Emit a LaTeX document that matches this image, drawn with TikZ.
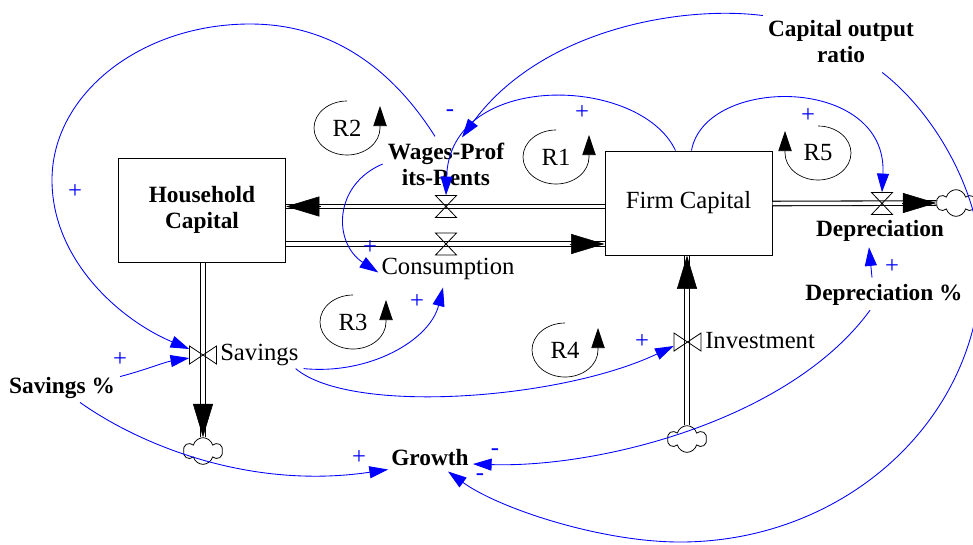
\documentclass[tikz,border=0pt]{standalone}
\usepackage{fontspec}
\setmainfont{Liberation Serif}
\usepackage{xcolor}
\usepackage{tikz}
\usetikzlibrary{arrows.meta,calc,shapes.symbols}
\definecolor{linkc}{rgb}{0,0,1}

\begin{document}
\begin{tikzpicture}[x=0.75pt,y=-0.75pt,
  reg/.style={font=\fontsize{18.5}{19.5}\selectfont,inner sep=0pt},
  bld/.style={font=\fontsize{17.5}{19.5}\selectfont\bfseries,inner sep=0pt},
  stock/.style={draw,line width=0.75pt,minimum width=125.25pt,minimum height=78pt},
  pipe/.style={line width=0.8pt,double=white,double distance=2.6pt},
  flowhead/.style={-{Triangle[length=25pt,width=15pt]},line width=0.4pt},
  hvbox/.style={inner sep=0pt,minimum width=15.75pt,minimum height=16.5pt},
  vvbox/.style={inner sep=0pt,minimum width=20.25pt,minimum height=13.5pt},
  hvalve/.pic={\draw[line width=0.6pt] (-10.5,-11) -- (10.5,-11) -- (-10.5,11) -- (10.5,11) -- cycle;},
  vvalve/.pic={\draw[line width=0.6pt] (-13.5,-9) -- (-13.5,9) -- (13.5,-9) -- (13.5,9) -- cycle;},
  cloudy/.style={cloud,draw,cloud puffs=6,aspect=1.5,minimum width=29pt,minimum height=20pt,inner sep=0pt,line width=0.6pt},
  link/.style={draw=linkc,line width=0.65pt,-{Triangle[length=14pt,width=9pt]}},
  sign/.style={text=linkc,font=\fontsize{18.5}{19.5}\selectfont,inner sep=0pt},
  loopline/.style={line width=0.5pt,-{Triangle[length=15pt,width=10pt]}}]
\useasboundingbox (0,0) rectangle (973,544);

% stocks and flow valves
\node[stock,bld,align=center] (hh) at (202,210) {Household\\Capital};
\node[stock,reg] (fc) at (688.5,203) {Firm Capital};
\node[hvbox] (wprv) at (446,206.5) {};
\node[hvbox] (consv) at (446,244) {};
\node[hvbox] (depv) at (882,203.5) {};
\node[vvbox] (savv) at (203,355) {};
\node[vvbox] (invv) at (687.5,342) {};
\node[cloudy] (savc) at (203,451) {};
\node[cloudy] (invc) at (687,439) {};
\node[cloudy] (depc) at (956,203) {};

% pipes
\draw[pipe] (fc.west |- wprv) -- (hh.east |- wprv);
\draw[flowhead] ($(hh.east |- wprv)+(35,0)$) -- (hh.east |- wprv);
\draw[pipe] (hh.east |- consv) -- (fc.west |- consv);
\draw[flowhead] ($(fc.west |- consv)+(-35,0)$) -- (fc.west |- consv);
\draw[pipe] (hh.south -| savv) -- (savc.north);
\draw[flowhead] ($(savc.north)+(0,-30)$) -- (savc.north);
\draw[pipe] (invc.north) -- (fc.south -| invc);
\draw[flowhead] ($(fc.south -| invc)+(0,30)$) -- (fc.south -| invc);
\draw[pipe] (fc.east |- depv) -- (depc.west);
\draw[flowhead] ($(depc.west)+(-34,0)$) -- (depc.west);
\pic at (wprv) {hvalve};
\pic at (consv) {hvalve};
\pic at (depv) {hvalve};
\pic at (savv) {vvalve};
\pic at (invv) {vvalve};

% labels
\node[bld,align=center] (wpr) at (446,164) {Wages-Prof\\its-Rents};
\node[reg,anchor=base] (cons) at (448,274) {Consumption};
\node[reg,anchor=base west] (savl) at (220,360) {Savings};
\node[reg,anchor=base west] (invl) at (705,348) {Investment};
\node[bld,anchor=base] (dep) at (880,236) {Depreciation};
\node[bld,anchor=base] (dp) at (884,300) {Depreciation \%};
\node[bld,align=center] (cor) at (841,42) {Capital output\\ratio};
\node[bld,anchor=base] (sp) at (62,393) {Savings \%};
\node[bld,anchor=base] (gr) at (430,465) {Growth};

% loops
\node[reg] (r1) at (556,157) {R1};
\node[reg] (r2) at (347,128) {R2};
\node[reg] (r3) at (353,322) {R3};
\node[reg] (r4) at (565,350) {R4};
\node[reg] (r5) at (818,153) {R5};
\draw[loopline] ($(r1)+(0,-27)$) arc[start angle=-90,end angle=-360,x radius=33,y radius=27] -- ++(0,-22);
\draw[loopline] ($(r2)+(0,-27)$) arc[start angle=-90,end angle=-360,x radius=33,y radius=27] -- ++(0,-22);
\draw[loopline] ($(r3)+(0,-27)$) arc[start angle=-90,end angle=-360,x radius=33,y radius=27] -- ++(0,-22);
\draw[loopline] ($(r4)+(0,-27)$) arc[start angle=-90,end angle=-360,x radius=33,y radius=27] -- ++(0,-22);
\draw[loopline] ($(r5)+(0,-27)$) arc[start angle=-90,end angle=180,x radius=33,y radius=27] -- ++(0,-22);

% links
\draw[link] ($(wpr.north)+(-11,-6)$) .. controls (398,78) and (340,24) .. (250,24) .. controls (141,24) and (52,94) .. (52,180) .. controls (52,260) and (120,320) .. ($(savv.west)+(0,-6)$);
\draw[link] ($(sp.north east)+(5,0)$) .. controls (145,370) and (165,362) .. ($(savv.west)+(0,3)$);
\draw[link] ($(sp.south)+(18,4)$) .. controls (140,445) and (250,490) .. ($(gr.south west)+(-3,4)$);
\draw[link] ($(savl.south east)+(5,3)$) .. controls (370,375) and (430,340) .. ($(cons.south)+(-5,8)$);
\draw[link] ($(savl.south east)+(-3,3)$) .. controls (350,415) and (560,400) .. ($(invv.west)+(0,4)$);
\draw[link] ($(wpr.west)+(-5,0)$) .. controls (333,185) and (333,243) .. ($(cons.west)+(-3,4)$);
\draw[link] ($(fc.north)+(-13,0)$) .. controls (640,75) and (450,70) .. (wprv.north);
\draw[link] ($(cor.north west)+(-5,-5)$) .. controls (680,5) and (540,30) .. ($(wpr.north)+(16,-5)$);
\draw[link] ($(fc.north)+(3,0)$) .. controls (705,75) and (888,75) .. (depv.north);
\draw[link] ($(cor.south east)+(-32,9)$) .. controls (936,114) and (981,195) .. (981,265) .. controls (981,418) and (846,542) .. (680,542) .. controls (600,542) and (498,508) .. ($(gr.south)+(18,6)$);
\draw[link] ($(dp.north)+(-12,-6)$) -- ($(dep.south)+(-11,6)$);
\draw[link] ($(dp.south)+(-14,5)$) .. controls (790,420) and (600,468) .. ($(gr.east)+(4,7)$);

% polarities
\node[sign] (s1) at (75,192) {+};
\node[sign] (s2) at (120,360) {+};
\node[sign] (s3) at (359,458) {+};
\node[sign] (s4) at (417,302) {+};
\node[sign] (s5) at (642,342) {+};
\node[sign] (s6) at (370,248) {+};
\node[sign] (s7) at (582,113) {+};
\node[sign] (s8) at (450,113) {-};
\node[sign] (s9) at (808,116) {+};
\node[sign] (s10) at (480,477) {-};
\node[sign] (s11) at (892,267) {+};
\node[sign] (s12) at (495,452) {-};
\end{tikzpicture}
\end{document}
